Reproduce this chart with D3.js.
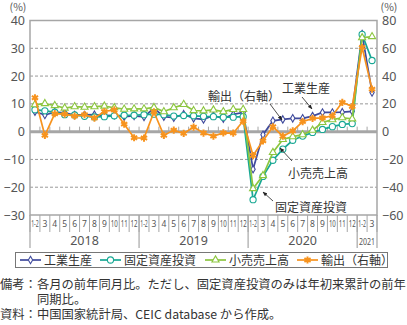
<!DOCTYPE html>
<html><head><meta charset="utf-8">
<script src="https://cdn.jsdelivr.net/npm/d3@7"></script>
<style>
body{margin:0;background:#fff;}
text{font-family:"Noto Sans CJK JP","Noto Sans",sans-serif;}
</style></head><body>
<svg id="c" width="407" height="325"></svg>
<script>
// ---- data ----
const months = ["1-2","3","4","5","6","7","8","9","10","11","12",
                "1-2","3","4","5","6","7","8","9","10","11","12",
                "1-2","3","4","5","6","7","8","9","10","11","12",
                "1-2","3"];
const yearLabels = ["2018","2019","2020","2021"];
const yearCounts = [11,11,11,2];
const industrial = [7.2,6.0,7.0,6.8,6.0,6.0,6.1,5.8,5.9,5.4,5.7,
                    5.3,8.5,5.4,5.0,6.3,4.8,4.4,5.8,4.7,6.2,6.9,
                    -13.5,-1.1,3.9,4.4,4.8,4.8,5.6,6.9,6.9,7.0,7.3,
                    35.1,14.1];
const fixedInv = [7.9,7.5,7.0,6.1,6.0,5.5,5.3,5.4,5.7,5.9,5.9,
                  6.1,6.3,6.1,5.6,5.8,5.7,5.5,5.4,5.2,5.2,5.4,
                  -24.5,-16.1,-10.3,-6.3,-3.1,-1.6,-0.3,0.8,1.8,2.6,2.9,
                  35.0,25.6];
const retail = [9.7,10.1,9.4,8.5,9.0,8.8,9.0,9.2,8.6,8.1,8.2,
                8.2,8.7,7.2,8.6,9.8,7.6,7.5,7.8,7.2,8.0,8.0,
                -20.5,-15.8,-7.5,-2.8,-1.8,-1.1,0.5,3.3,4.3,5.0,4.6,
                33.8,34.2];
const exportsR = [24.4,-2.7,12.9,12.6,11.2,12.2,9.8,14.5,15.6,5.4,-4.4,
                  -4.6,14.2,-2.7,1.1,-1.3,3.3,-1.0,-3.2,-0.9,-1.1,7.6,
                  -17.2,-6.6,3.5,-3.3,0.5,7.2,9.5,9.9,11.4,21.1,18.1,
                  60.6,30.6];
const leftTicks = [40,30,20,10,0,-10,-20,-30];
const rightTicks = [80,60,40,20,0,-20,-40,-60];
const seriesNames = ["工業生産","固定資産投資","小売売上高","輸出（右軸）"];

// ---- layout ----
const svg = d3.select("#c");
const L = 30, R = 377, T = 20.5, B = 215;
const x = d3.scaleLinear().domain([0, months.length]).range([L, R]);
const yL = d3.scaleLinear().domain([-30, 40]).range([B, T]);
const yR = d3.scaleLinear().domain([-60, 80]).range([B, T]);
const cx = i => x(i + 0.5);
const grey = "#a6a6a6", txt = "#555";

// gridlines
svg.append("g").selectAll("line").data(leftTicks.filter(d => d !== 0 && d !== 40 && d !== -30))
  .join("line").attr("x1", L).attr("x2", R).attr("y1", d => yL(d)).attr("y2", d => yL(d))
  .attr("stroke", "#8c8c8c").attr("stroke-width", 0.9).attr("stroke-dasharray", "3,2");

// frame
svg.append("rect").attr("x", L).attr("y", T).attr("width", R - L).attr("height", B - T)
  .attr("fill", "none").attr("stroke", grey).attr("stroke-width", 1.5);

// zero line + ticks
svg.append("line").attr("x1", L).attr("x2", R).attr("y1", yL(0)).attr("y2", yL(0))
  .attr("stroke", grey).attr("stroke-width", 3);
svg.append("g").selectAll("line").data(d3.range(1, months.length)).join("line")
  .attr("x1", d => x(d)).attr("x2", d => x(d)).attr("y1", yL(0) - 5).attr("y2", yL(0))
  .attr("stroke", grey).attr("stroke-width", 1);

// left axis
const gl = svg.append("g").attr("transform", `translate(${L},0)`)
  .call(d3.axisLeft(yL).tickValues(leftTicks).tickSize(0).tickPadding(5));
gl.select(".domain").remove();
gl.selectAll("text").attr("font-size", 12.5).attr("fill", txt)
  .style("font-family", '"Noto Sans","Open Sans",sans-serif');
// right axis
const gr = svg.append("g").attr("transform", `translate(${R},0)`)
  .call(d3.axisRight(yR).tickValues(rightTicks).tickSize(0).tickPadding(5));
gr.select(".domain").remove();
gr.selectAll("text").attr("font-size", 12.5).attr("fill", txt)
  .style("font-family", '"Noto Sans","Open Sans",sans-serif');
svg.append("text").attr("x", 18).attr("y", 11).attr("text-anchor", "middle")
  .attr("font-size", 10.5).attr("fill", txt).text("(%)");
svg.append("text").attr("x", 389).attr("y", 11).attr("text-anchor", "middle")
  .attr("font-size", 10.5).attr("fill", txt).text("(%)");

// month separators and labels
svg.append("g").selectAll("line").data(d3.range(0, months.length + 1)).join("line")
  .attr("x1", d => x(d)).attr("x2", d => x(d)).attr("y1", B).attr("y2", B + 17)
  .attr("stroke", grey).attr("stroke-width", 1);
svg.append("g").selectAll("text").data(months).join("text")
  .attr("x", (d, i) => cx(i)).attr("y", B + 12).attr("text-anchor", "middle")
  .attr("font-size", 8.5).attr("fill", txt)
  .style("font-family", '"Noto Sans",sans-serif')
  .each(function(d) { if (d.length > 1) d3.select(this).attr("textLength", d.length > 2 ? 7.6 : 7).attr("lengthAdjust", "spacingAndGlyphs"); })
  .text(d => d);
// year separators and labels
let acc = 0;
const yb = [0];
yearCounts.forEach(n => { acc += n; yb.push(acc); });
svg.append("g").selectAll("line").data(yb).join("line")
  .attr("x1", d => x(d)).attr("x2", d => x(d)).attr("y1", B).attr("y2", B + 33)
  .attr("stroke", grey).attr("stroke-width", 1.2);
svg.append("g").selectAll("text").data(yearLabels).join("text")
  .attr("x", (d, i) => (x(yb[i]) + x(yb[i + 1])) / 2).attr("y", B + 30)
  .attr("text-anchor", "middle").attr("fill", txt)
  .style("font-family", '"Noto Sans",sans-serif')
  .attr("font-size", (d, i) => yearCounts[i] < 4 ? 9.5 : 12.5)
  .each(function(d, i) { if (yearCounts[i] < 4) d3.select(this).attr("textLength", 16).attr("lengthAdjust", "spacingAndGlyphs"); })
  .text(d => d);

// series
const colors = ["#3f4a9c", "#18a894", "#8cc63f", "#f7931e"];
const symTypes = [d3.symbolDiamond, d3.symbolCircle, d3.symbolTriangle, d3.symbolAsterisk];
const symSizes = [16, 30, 22, 36];
const series = [
  {vals: industrial, y: yL},
  {vals: fixedInv, y: yL},
  {vals: retail, y: yL},
  {vals: exportsR, y: yR}
];
function drawMarker(g, k, px, py) {
  const p = g.append("path").attr("d", d3.symbol().type(symTypes[k]).size(symSizes[k])())
    .attr("transform", `translate(${px},${py})`);
  if (k === 3) p.attr("fill", "none").attr("stroke", colors[k]).attr("stroke-width", 2);
  else p.attr("fill", "#fff").attr("stroke", colors[k]).attr("stroke-width", 1.1);
}
series.forEach((s, k) => {
  const g = svg.append("g");
  g.append("path").datum(s.vals)
    .attr("d", d3.line().x((d, i) => cx(i)).y(d => s.y(d)))
    .attr("fill", "none").attr("stroke", colors[k]).attr("stroke-width", 1.7);
  s.vals.forEach((v, i) => drawMarker(g, k, cx(i), s.y(v)));
});

// annotations
svg.append("defs").append("marker").attr("id", "ah").attr("viewBox", "0 0 10 10")
  .attr("refX", 9).attr("refY", 5).attr("markerWidth", 6).attr("markerHeight", 6)
  .attr("orient", "auto").append("path").attr("d", "M0,1L10,5L0,9Z").attr("fill", "#222");
const ann = [
  {t: "輸出（右軸）", tx: 208, ty: 101, x1: 270, y1: 104, x2: 282, y2: 120},
  {t: "工業生産", tx: 282, ty: 93, x1: 302, y1: 97, x2: 312, y2: 109},
  {t: "小売売上高", tx: 288, ty: 178, x1: 292, y1: 161, x2: 280, y2: 148},
  {t: "固定資産投資", tx: 275, ty: 212, x1: 273, y1: 201, x2: 263, y2: 192}
];
ann.forEach(a => {
  svg.append("text").attr("x", a.tx).attr("y", a.ty).attr("font-size", 12).attr("fill", "#333").text(a.t);
  svg.append("line").attr("x1", a.x1).attr("y1", a.y1).attr("x2", a.x2).attr("y2", a.y2)
    .attr("stroke", "#222").attr("stroke-width", 0.8).attr("marker-end", "url(#ah)");
});

// legend
svg.append("rect").attr("x", 15.5).attr("y", 252.5).attr("width", 372).attr("height", 15)
  .attr("fill", "#fff").attr("stroke", "#777").attr("stroke-width", 1);
const legX = [20, 100, 205, 297];
seriesNames.forEach((n, k) => {
  const g = svg.append("g");
  g.append("line").attr("x1", legX[k]).attr("x2", legX[k] + 21).attr("y1", 260).attr("y2", 260)
    .attr("stroke", colors[k]).attr("stroke-width", 1.7);
  drawMarker(g, k, legX[k] + 10.5, 260);
  g.append("text").attr("x", legX[k] + 24).attr("y", 264.5).attr("font-size", 12).attr("fill", "#333").text(n);
});

// notes
const notes = [
  {t: "備考：各月の前年同月比。ただし、固定資産投資のみは年初来累計の前年", x: 0, y: 289},
  {t: "同期比。", x: 37, y: 303.5},
  {t: "資料：中国国家統計局、CEIC database から作成。", x: 0, y: 318.5}
];
notes.forEach(n => svg.append("text").attr("x", n.x).attr("y", n.y).attr("font-size", 12.3)
  .attr("fill", "#333").text(n.t));
</script>
</body></html>
